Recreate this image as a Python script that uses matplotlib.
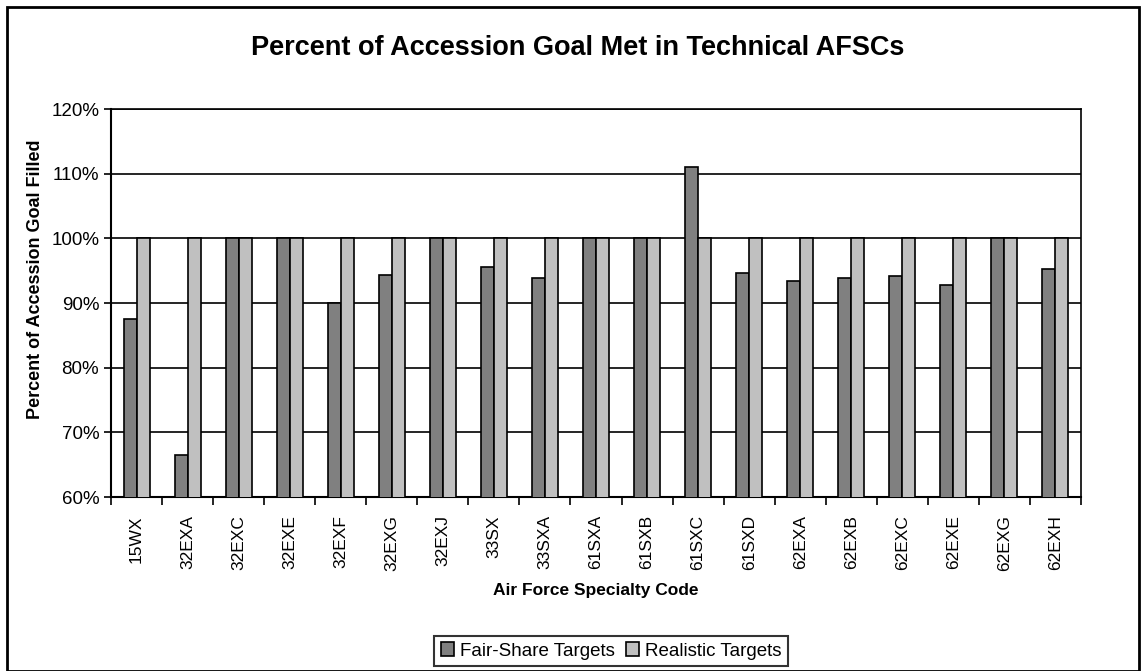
import numpy as np
import matplotlib.pyplot as plt
from matplotlib.patches import Rectangle
from matplotlib.ticker import FuncFormatter

plt.rcParams['font.family'] = ['Liberation Sans', 'DejaVu Sans']

# -----------------------------
# DATA
# -----------------------------
codes = ["15WX", "32EXA", "32EXC", "32EXE", "32EXF", "32EXG", "32EXJ", "33SX",
         "33SXA", "61SXA", "61SXB", "61SXC", "61SXD", "62EXA", "62EXB", "62EXC",
         "62EXE", "62EXG", "62EXH"]
fair_share = [87.5, 66.5, 100, 100, 90.0, 94.4, 100, 95.6,
              93.8, 100, 100, 111.1, 94.7, 93.4, 93.8, 94.1,
              92.8, 100, 95.3]
realistic = [100] * len(codes)

# -----------------------------
# PLOT
# -----------------------------
fig = plt.figure(figsize=(11.42, 6.71), dpi=100)
ax = fig.add_axes([111 / 1142, 1 - 497 / 671, 970 / 1142, 388 / 671])

x = np.arange(len(codes))
w = 0.255
ax.bar(x - w / 2, fair_share, w, color="#808080", edgecolor="black", lw=1.2,
       label="Fair-Share Targets", zorder=3)
ax.bar(x + w / 2, realistic, w, color="#c0c0c0", edgecolor="black", lw=1.2,
       label="Realistic Targets", zorder=3)

ax.set_ylim(60, 120)
ax.set_xlim(-0.5, len(codes) - 0.5)
ax.set_yticks(np.arange(60, 121, 10))
ax.yaxis.set_major_formatter(FuncFormatter(lambda v, p: f"{v:.0f}%"))
ax.grid(axis="y", color="black", lw=1.2, zorder=1)

ax.set_xticks(x)
ax.set_xticklabels(codes, rotation=90, fontsize=12.5)
ax.set_xticks(np.arange(-0.5, len(codes), 1), minor=True)
ax.tick_params(axis="x", which="major", length=0, pad=13)
ax.tick_params(axis="x", which="minor", length=6, width=1.2, direction="out")
ax.tick_params(axis="y", labelsize=13.5, length=5, width=1.2)

for side in ["top", "right"]:
    ax.spines[side].set_linewidth(1.2)
for side in ["left", "bottom"]:
    ax.spines[side].set_linewidth(1.5)

ax.set_ylabel("Percent of Accession Goal Filled", fontsize=13, fontweight="bold")
ax.yaxis.set_label_coords(-0.069, 0.56)
fig.text(596 / 1142, 1 - 590 / 671, "Air Force Specialty Code",
         ha="center", va="center", fontsize=12.5, fontweight="bold")
fig.text(578 / 1142, 1 - 48 / 671, "Percent of Accession Goal Met in Technical AFSCs",
         ha="center", va="center", fontsize=19.5, fontweight="bold")

leg = fig.legend(loc="center", bbox_to_anchor=(611 / 1142, 1 - 651 / 671), ncol=2,
                 fontsize=13.5, frameon=True, fancybox=False, edgecolor="black",
                 handlelength=0.7, handleheight=0.7, handletextpad=0.3,
                 columnspacing=0.6, borderpad=0.35)
leg.get_frame().set_linewidth(1.5)

fig.patches.append(Rectangle((7 / 1142, 0), 1132 / 1142, 1 - 7 / 671, fill=False,
                             edgecolor="black", lw=2, transform=fig.transFigure))

plt.savefig("out.png", dpi=100)
plt.close()
